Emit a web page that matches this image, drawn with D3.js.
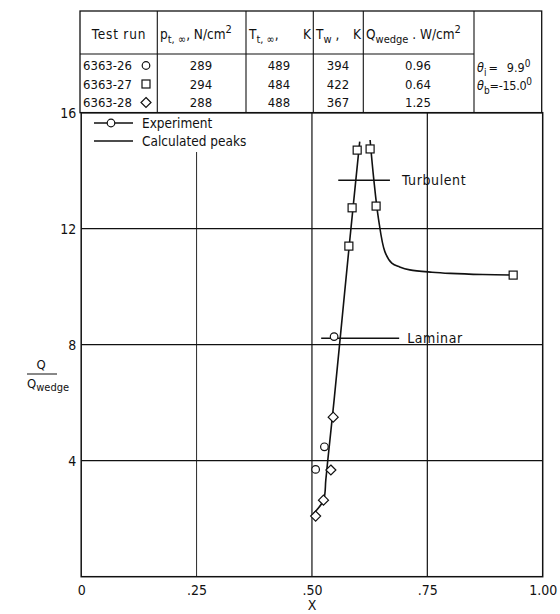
<!DOCTYPE html>
<html>
<head>
<meta charset="utf-8">
<script src="https://cdn.jsdelivr.net/npm/d3@7"></script>
<style>
  html, body { margin: 0; padding: 0; background: #fff; }
  svg { display: block; }
  text { font-family: "DejaVu Sans Condensed", "Liberation Sans Narrow", "DejaVu Sans", sans-serif; fill: #111; }
</style>
</head>
<body>
<svg id="chart" width="560" height="614"></svg>
<script>
// Test conditions
const runs = ["6363-26", "6363-27", "6363-28"];
const runSymbols = ["circle", "square", "diamond"];
const pressures = ["289", "294", "288"];
const totalTemps = ["489", "484", "488"];
const wallTemps = ["394", "422", "367"];
const wedgeHeating = ["0.96", "0.64", "1.25"];

// Measured heating ratios Q/Qwedge at position X
const circleX = [0.548, 0.527, 0.508];
const circleQ = [8.28, 4.48, 3.70];
const squareX = [0.598, 0.626, 0.587, 0.639, 0.580, 0.936];
const squareQ = [14.71, 14.75, 12.72, 12.78, 11.40, 10.40];
const diamondX = [0.546, 0.541, 0.525, 0.508];
const diamondQ = [5.50, 3.68, 2.64, 2.09];

// Calculated peak heating: rising and falling branches
const riseX = [0.504, 0.525, 0.530, 0.534, 0.548, 0.565, 0.582, 0.6035];
const riseQ = [2.19, 2.64, 3.33, 3.97, 6.09, 8.85, 11.61, 15.0];
const fallX = [0.626, 0.634, 0.644, 0.658, 0.673, 0.690, 0.712, 0.760, 0.800, 0.870, 0.936];
const fallQ = [15.06, 13.7, 12.36, 11.21, 10.81, 10.68, 10.58, 10.50, 10.46, 10.42, 10.40];

// Reference levels
const turbulentLevel = { x0: 0.557, x1: 0.669, q: 13.67 };
const laminarLevel = { x0: 0.520, x1: 0.689, q: 8.22 };

const xTicks = [0, 0.25, 0.5, 0.75, 1.0];
const xTickLabels = ["0", ".25", ".50", ".75", "1.00"];
const yTicks = [4, 8, 12, 16];
const yTickLabels = ["4", "8", "12", "16"];

const svg = d3.select("#chart");
const x = d3.scaleLinear().domain([0, 1]).range([81.2, 542.7]);
const y = d3.scaleLinear().domain([0, 16]).range([576.7, 112.7]);

const ink = "#111";
const fontStack = "'DejaVu Sans Condensed', 'Liberation Sans Narrow', sans-serif";

// Grid lines
const g = svg.append("g");
g.selectAll("line.vgrid").data([0.25, 0.5, 0.75]).join("line")
  .attr("x1", d => x(d)).attr("x2", d => x(d))
  .attr("y1", d => d === 0.25 ? 152 : y(16)).attr("y2", y(0))
  .attr("stroke", ink).attr("stroke-width", d => d === 0.25 ? 0.9 : 1.2);
g.selectAll("line.hgrid").data([4, 8, 12]).join("line")
  .attr("x1", x(0)).attr("x2", x(1))
  .attr("y1", d => y(d)).attr("y2", d => y(d))
  .attr("stroke", ink).attr("stroke-width", 1.3);

// Plot frame
svg.append("rect").attr("x", x(0)).attr("y", y(16))
  .attr("width", x(1) - x(0)).attr("height", y(0) - y(16))
  .attr("fill", "none").attr("stroke", ink).attr("stroke-width", 1.5);

// Axis labels via d3 axes
const xAxis = d3.axisBottom(x).tickValues(xTicks).tickSize(0).tickPadding(8)
  .tickFormat((d, i) => xTickLabels[i]);
const xg = svg.append("g").attr("transform", `translate(0,${y(0)})`).call(xAxis);
xg.select(".domain").remove();
xg.selectAll("text").attr("font-size", 14).style("font-family", fontStack).attr("fill", ink);

const yAxis = d3.axisLeft(y).tickValues(yTicks).tickSize(0).tickPadding(5)
  .tickFormat((d, i) => yTickLabels[i]);
const yg = svg.append("g").attr("transform", `translate(${x(0)},0)`).call(yAxis);
yg.select(".domain").remove();
yg.selectAll("text").attr("font-size", 14).style("font-family", fontStack).attr("fill", ink);

svg.append("text").attr("x", x(0.5)).attr("y", 610).attr("text-anchor", "middle")
  .attr("font-size", 14).text("X");

// Y label: Q over Q_wedge
svg.append("text").attr("x", 41).attr("y", 369).attr("text-anchor", "middle")
  .attr("font-size", 13).text("Q");
svg.append("line").attr("x1", 27).attr("x2", 57).attr("y1", 374).attr("y2", 374)
  .attr("stroke", ink).attr("stroke-width", 1);
const ql = svg.append("text").attr("x", 27).attr("y", 388).attr("font-size", 13);
ql.append("tspan").text("Q");
ql.append("tspan").attr("dy", 3).attr("font-size", 11).text("wedge");

// Calculated curves
const line = d3.line().x(d => x(d[0])).y(d => y(d[1])).curve(d3.curveCatmullRom.alpha(0.5));
svg.append("path").datum(d3.zip(riseX, riseQ)).attr("d", line)
  .attr("fill", "none").attr("stroke", ink).attr("stroke-width", 1.6);
svg.append("path").datum(d3.zip(fallX, fallQ)).attr("d", line)
  .attr("fill", "none").attr("stroke", ink).attr("stroke-width", 1.6);

// Reference levels
[turbulentLevel, laminarLevel].forEach(l => {
  svg.append("line").attr("x1", x(l.x0)).attr("x2", x(l.x1))
    .attr("y1", y(l.q)).attr("y2", y(l.q)).attr("stroke", ink).attr("stroke-width", 1.4);
});
svg.append("text").attr("x", x(turbulentLevel.x1) + 12).attr("y", y(turbulentLevel.q) + 5)
  .attr("font-size", 14).attr("letter-spacing", 0.6).text("Turbulent");
svg.append("text").attr("x", x(laminarLevel.x1) + 8).attr("y", y(laminarLevel.q) + 5)
  .attr("font-size", 14).attr("letter-spacing", 0.6).text("Laminar");

// Markers
function drawMarker(sel, type, cx, cy) {
  if (type === "circle") {
    sel.append("circle").attr("cx", cx).attr("cy", cy).attr("r", 3.8)
      .attr("fill", "#fff").attr("stroke", ink).attr("stroke-width", 1.2);
  } else if (type === "square") {
    sel.append("rect").attr("x", cx - 4).attr("y", cy - 4).attr("width", 8).attr("height", 8)
      .attr("fill", "#fff").attr("stroke", ink).attr("stroke-width", 1.2);
  } else {
    const r = 5;
    sel.append("path").attr("d", `M${cx},${cy - r}L${cx + r},${cy}L${cx},${cy + r}L${cx - r},${cy}Z`)
      .attr("fill", "#fff").attr("stroke", ink).attr("stroke-width", 1.2);
  }
}
const mk = svg.append("g");
circleX.forEach((d, i) => drawMarker(mk, "circle", x(d), y(circleQ[i])));
squareX.forEach((d, i) => drawMarker(mk, "square", x(d), y(squareQ[i])));
diamondX.forEach((d, i) => drawMarker(mk, "diamond", x(d), y(diamondQ[i])));

// Legend
const lg = svg.append("g");
lg.append("line").attr("x1", 94).attr("x2", 133).attr("y1", 123).attr("y2", 123)
  .attr("stroke", ink).attr("stroke-width", 1.3);
drawMarker(lg, "circle", 111, 123);
lg.append("text").attr("x", 142).attr("y", 128).attr("font-size", 13.5).text("Experiment");
lg.append("line").attr("x1", 94).attr("x2", 133).attr("y1", 141).attr("y2", 141)
  .attr("stroke", ink).attr("stroke-width", 1.5);
lg.append("text").attr("x", 142).attr("y", 146).attr("font-size", 13.5).text("Calculated peaks");

// Table of test conditions
const tTop = 11, tHead = 54, tBot = y(16);
const colX = [80, 157.3, 246, 313.3, 363.3, 474, 541.7];
const rowY = [70, 88.5, 107];
const tb = svg.append("g");
tb.append("rect").attr("x", colX[0]).attr("y", tTop).attr("width", colX[6] - colX[0])
  .attr("height", tBot - tTop).attr("fill", "none").attr("stroke", ink).attr("stroke-width", 1.3);
colX.slice(1, 6).forEach(cx => tb.append("line").attr("x1", cx).attr("x2", cx)
  .attr("y1", tTop).attr("y2", tBot).attr("stroke", ink).attr("stroke-width", 1.1));
tb.append("line").attr("x1", colX[0]).attr("x2", colX[5]).attr("y1", tHead).attr("y2", tHead)
  .attr("stroke", ink).attr("stroke-width", 1.1);

// Header cells
const hy = 39, fs = 13.5;
tb.append("text").attr("x", 119).attr("y", hy).attr("text-anchor", "middle").attr("font-size", fs)
  .attr("letter-spacing", 0.8).text("Test run");
let h = tb.append("text").attr("x", 160).attr("y", hy).attr("font-size", fs);
h.append("tspan").text("p");
h.append("tspan").attr("dy", 4).attr("font-size", 11).text("t, \u221e");
h.append("tspan").attr("dy", -4).text(", N/cm");
h.append("tspan").attr("dy", -6).attr("font-size", 11).text("2");
h = tb.append("text").attr("x", 249).attr("y", hy).attr("font-size", fs);
h.append("tspan").text("T");
h.append("tspan").attr("dy", 4).attr("font-size", 11).text("t, \u221e");
h.append("tspan").attr("dy", -4).text(",");
tb.append("text").attr("x", 311).attr("y", hy).attr("text-anchor", "end").attr("font-size", fs).text("K");
h = tb.append("text").attr("x", 316).attr("y", hy).attr("font-size", fs);
h.append("tspan").text("T");
h.append("tspan").attr("dy", 4).attr("font-size", 11).text("w");
h.append("tspan").attr("dy", -4).text(" ,");
tb.append("text").attr("x", 361).attr("y", hy).attr("text-anchor", "end").attr("font-size", fs).text("K");
h = tb.append("text").attr("x", 366).attr("y", hy).attr("font-size", fs);
h.append("tspan").text("Q");
h.append("tspan").attr("dy", 4).attr("font-size", 11).text("wedge");
h.append("tspan").attr("dy", -4).text(" . W/cm");
h.append("tspan").attr("dy", -6).attr("font-size", 11).text("2");

// Data rows
runs.forEach((r, i) => {
  const ry = rowY[i];
  tb.append("text").attr("x", 83).attr("y", ry).attr("font-size", 13).text(r);
  drawMarker(tb, runSymbols[i], 146, ry - 4.5);
  [[pressures, 201], [totalTemps, 279], [wallTemps, 338], [wedgeHeating, 418]].forEach(([arr, cx]) => {
    tb.append("text").attr("x", cx).attr("y", ry).attr("text-anchor", "middle").attr("font-size", 13).text(arr[i]);
  });
});

// Angle cell
h = tb.append("text").attr("x", 477).attr("y", 72).attr("font-size", 12.5);
h.append("tspan").attr("font-style", "italic").text("\u03b8");
h.append("tspan").attr("dy", 4).attr("font-size", 10).text("i");
h.append("tspan").attr("dy", -4).attr("dx", 2).text("=");
h.append("tspan").attr("dx", 9).text("9.9");
h.append("tspan").attr("dy", -5).attr("font-size", 10).text("0");
h = tb.append("text").attr("x", 477).attr("y", 90).attr("font-size", 12.5);
h.append("tspan").attr("font-style", "italic").text("\u03b8");
h.append("tspan").attr("dy", 4).attr("font-size", 10).text("b");
h.append("tspan").attr("dy", -4).attr("letter-spacing", -0.3).text("=-15.0");
h.append("tspan").attr("dy", -5).attr("font-size", 10).text("0");
</script>
</body>
</html>
